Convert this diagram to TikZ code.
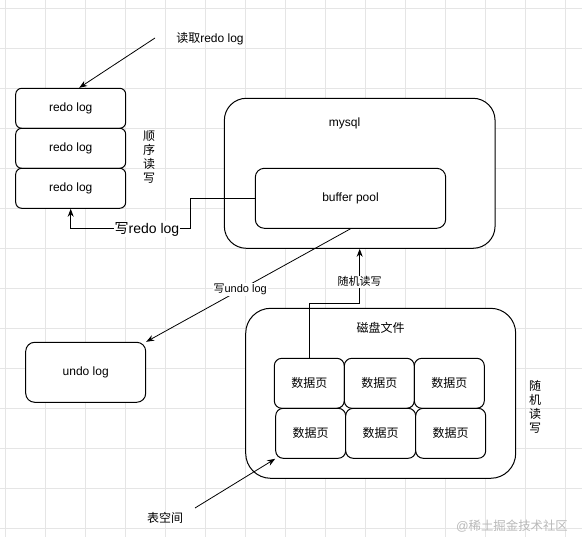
\documentclass[tikz,border=0pt]{standalone}
\usepackage{fontspec}
\setmainfont{Liberation Sans}
\newfontfamily\cjk{Noto Sans CJK SC}
\usetikzlibrary{arrows.meta}

\tikzset{
	gridline/.style={draw=gray!20, line width=0.8pt},
	box/.style={draw, fill=white, line width=1pt, inner sep=0pt, font=\fontsize{12}{14}\selectfont},
	txt/.style={inner sep=1pt, font=\fontsize{12}{14}\selectfont},
	vtxt/.style={inner sep=1pt, align=center, font=\fontsize{12}{14}\selectfont\cjk},
	lbl/.style={fill=white, inner sep=1pt, font=\fontsize{11}{13}\selectfont},
	arr/.style={-{Stealth[length=8pt,width=6pt]}, line width=0.8pt},
}

\begin{document}
\begin{tikzpicture}[x=1pt,y=-1pt]
		\fill[white] (0,0) rectangle (582,537);
		\useasboundingbox (0,0) rectangle (582,537);
		\foreach \gx in {0,...,14} \draw[gridline] (5.7+40*\gx,0) -- (5.7+40*\gx,537);
		\foreach \gy in {0,...,13} \draw[gridline] (0,8+40*\gy) -- (582,8+40*\gy);
		
		\node[box, minimum width=110pt, minimum height=40pt, rounded corners=6pt] (r1) at (70.7,108.3) {redo log};
		\node[box, minimum width=110pt, minimum height=40pt, rounded corners=6pt] (r2) at (70.7,148.3) {redo log};
		\node[box, minimum width=110pt, minimum height=40pt, rounded corners=6pt] (r3) at (70.7,188.3) {redo log};
		\node[vtxt] (sx) at (149,157.5) {顺\\序\\读\\写};
		\coordinate (rd) at (155,38);
		\node[txt] (rdt) at (210,39) {{\cjk 读取}redo log};
		\draw[arr] (rd) -- ([xshift=8.5pt]r1.north);
		
		\node[box, minimum width=270.7pt, minimum height=150pt, rounded corners=22pt] (mysql) at (359.7,173.3) {};
		\node[txt] (mt) at (344.5,123.5) {mysql};
		\node[box, minimum width=190.4pt, minimum height=60pt, rounded corners=9pt] (bp) at (350.5,198.3) {buffer pool};
		
		\node[box, minimum width=120pt, minimum height=60pt, rounded corners=9pt] (ul) at (85.7,372.3) {undo log};
		
		\node[box, minimum width=270pt, minimum height=170pt, rounded corners=25pt] (disk) at (380.7,393.3) {};
		\node[txt] (dt) at (380.7,328.3) {\cjk 磁盘文件};
		\node[box, minimum width=70pt, minimum height=50pt, rounded corners=7.5pt] (p1) at (309.3,383.3) {\cjk 数据页};
		\node[box, minimum width=70pt, minimum height=50pt, rounded corners=7.5pt] (p2) at (379.3,383.3) {\cjk 数据页};
		\node[box, minimum width=70pt, minimum height=50pt, rounded corners=7.5pt] (p3) at (449.3,383.3) {\cjk 数据页};
		\node[box, minimum width=70pt, minimum height=50pt, rounded corners=7.5pt] (p4) at (310.7,433.3) {\cjk 数据页};
		\node[box, minimum width=70pt, minimum height=50pt, rounded corners=7.5pt] (p5) at (380.7,433.3) {\cjk 数据页};
		\node[box, minimum width=70pt, minimum height=50pt, rounded corners=7.5pt] (p6) at (450.7,433.3) {\cjk 数据页};
		\node[vtxt] (sj) at (535,406.7) {随\\机\\读\\写};
		
		% connectors
		\draw[arr] (bp.west) -- ++(-64.6,0) -- ++(0,30) -| (r3.south);
		\node[fill=white, inner sep=1pt, font=\fontsize{14}{16}\selectfont] (wr) at (147,229.3) {{\cjk 写}redo log};
		\draw[arr] (bp.south) -- (ul.north east) node[lbl, pos=0.54] (wu) {{\cjk 写}undo log};
		\draw[arr] (p1.north) -- ++(0,-54.3) -| (mysql.south) node[lbl, pos=0.7] (sjt) {\cjk 随机读写};
		\coordinate (ts) at (195,508);
		\draw[arr] (ts) -- (p4.south west);
		\node[txt] (tst) at (165,518.3) {\cjk 表空间};
		
		\node[text=gray!55, font=\fontsize{12.4}{14}\selectfont] (wm) at (512,525.7) {@{\cjk 稀土掘金技术社区}};
\end{tikzpicture}
\end{document}
